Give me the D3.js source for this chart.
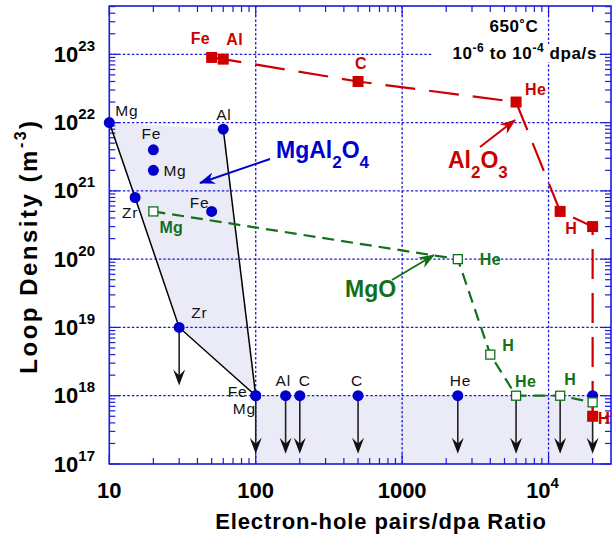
<!DOCTYPE html>
<html>
<head>
<meta charset="utf-8">
<script src="https://cdn.jsdelivr.net/npm/d3@7"></script>
<style>
  body { margin: 0; background: #fff; }
  text { font-family: "Liberation Sans", Arial, sans-serif; }
</style>
</head>
<body>
<script>
// MgAl2O4 (blue dots) - Fe and Mg share the point at 100
var spinelX = [10, 60, 20, 20, 15, 50, 30, 100, 100, 160, 200, 500, 2400, 20000];
var spinelY = [1e22, 8e21, 4e21, 2e21, 8e20, 5e20, 1e19, 1e18, 1e18, 1e18, 1e18, 1e18, 1e18, 1e18];
var spinelLab = ["Mg", "Al", "Fe", "Mg", "Zr", "Fe", "Zr", "Fe", "Mg", "Al", "C", "C", "He", ""];

// MgO (green open squares)
var mgoX = [20, 2400, 4000, 6000, 12000, 20000];
var mgoY = [5e20, 1e20, 4e18, 1e18, 1e18, 8e17];
var mgoLab = ["Mg", "He", "H", "He", "H", ""];

// Al2O3 (red squares)
var aluX = [50, 60, 500, 6000, 12000, 20000, 20000];
var aluY = [9e22, 8.5e22, 4e22, 2e22, 5e20, 3e20, 5e17];
var aluLab = ["Fe", "Al", "C", "He", "H", "", "H"];

// upper limits (arrows pointing down)
var limX = [30, 100, 160, 200, 500, 2400, 6000, 12000, 20000];
var limY = [1e19, 1e18, 1e18, 1e18, 1e18, 1e18, 1e18, 1e18, 1e18];

// MgAl2O4 envelope
var leftEdgeX = [10, 15, 30, 100];
var leftEdgeY = [1e22, 8e20, 1e19, 1e18];
var rightEdgeX = [60, 100];
var rightEdgeY = [8e21, 1e18];
var shadeX = [10, 60, 100, 20000, 20000, 100, 100, 30, 15];
var shadeY = [1e22, 8e21, 1e18, 1e18, 1e17, 1e17, 1e18, 1e19, 8e20];

var xTicks = [10, 100, 1000, 10000];
var xTickLab = [["10", ""], ["100", ""], ["1000", ""], ["10", "4"]];
var yTicks = [1e17, 1e18, 1e19, 1e20, 1e21, 1e22, 1e23];
var yTickExp = ["17", "18", "19", "20", "21", "22", "23"];

var W = 616, H = 544;
var L = 109.3, R = 611, T = 6, B = 464;
var BLUE = "#1a1adc", RED = "#cc0000", GREEN = "#13701a", PT = "#0000cc";

var svg = d3.select("body").append("svg").attr("width", W).attr("height", H);

var x = d3.scaleLog().domain([10, 26700]).range([L, R]);
var y = d3.scaleLog().domain([1e17, 5.1e23]).range([B, T]);

function pts(xs, ys) { return xs.map(function (v, i) { return [x(v), y(ys[i])]; }); }

// shading
svg.append("polygon")
    .attr("points", pts(shadeX, shadeY).join(" "))
    .attr("fill", "#ebebf8");

// grid
svg.selectAll(".gx").data(xTicks.slice(1)).enter().append("line")
    .attr("x1", function (d) { return x(d); }).attr("x2", function (d) { return x(d); })
    .attr("y1", T).attr("y2", B)
    .attr("stroke", BLUE).attr("stroke-width", 1.3).attr("stroke-dasharray", "2.5,2");
svg.selectAll(".gy").data(yTicks.slice(1)).enter().append("line")
    .attr("x1", L).attr("x2", R)
    .attr("y1", function (d) { return y(d); }).attr("y2", function (d) { return y(d); })
    .attr("stroke", BLUE).attr("stroke-width", 1.3).attr("stroke-dasharray", "2.5,2");

// minor/major ticks on all four sides
var xm = [], ym = [];
for (var e = 1; e <= 4; e++) for (var k = 1; k <= 9; k++) { var v = k * Math.pow(10, e); if (v <= 26700) xm.push(v); }
for (var e2 = 17; e2 <= 23; e2++) for (var k2 = 1; k2 <= 9; k2++) { var v2 = k2 * Math.pow(10, e2); if (v2 <= 5.1e23) ym.push(v2); }
function isMajor(v) { return Math.abs(Math.log10(v) - Math.round(Math.log10(v))) < 1e-9; }
var tk = svg.append("g").attr("stroke", BLUE).attr("stroke-width", 1.2);
xm.forEach(function (v) {
    var len = isMajor(v) ? 10 : 6;
    tk.append("line").attr("x1", x(v)).attr("x2", x(v)).attr("y1", B).attr("y2", B - len);
    tk.append("line").attr("x1", x(v)).attr("x2", x(v)).attr("y1", T).attr("y2", T + len);
});
ym.forEach(function (v) {
    var len = isMajor(v) ? 10 : 6;
    tk.append("line").attr("x1", L).attr("x2", L + len).attr("y1", y(v)).attr("y2", y(v));
    tk.append("line").attr("x1", R).attr("x2", R - len).attr("y1", y(v)).attr("y2", y(v));
});

// frame
svg.append("rect").attr("x", L).attr("y", T).attr("width", R - L).attr("height", B - T)
    .attr("fill", "none").attr("stroke", BLUE).attr("stroke-width", 1.6);

// white box behind the dose-rate note
svg.append("rect").attr("x", 432).attr("y", 44).attr("width", 166).attr("height", 18).attr("fill", "#fff");

// envelope lines
var line = d3.line();
svg.append("path").attr("d", line(pts(leftEdgeX, leftEdgeY)))
    .attr("fill", "none").attr("stroke", "#000").attr("stroke-width", 1.5);
svg.append("path").attr("d", line(pts(rightEdgeX, rightEdgeY)))
    .attr("fill", "none").attr("stroke", "#000").attr("stroke-width", 1.5);

// upper-limit arrows
var arrowDrop = Math.pow(10, -0.85);
limX.forEach(function (v, i) {
    var x0 = x(v), y0 = y(limY[i]), y1 = y(limY[i] * arrowDrop);
    svg.append("line").attr("x1", x0).attr("x2", x0).attr("y1", y0).attr("y2", y1 - 6)
        .attr("stroke", "#222").attr("stroke-width", 1.6);
    svg.append("path")
        .attr("d", "M" + x0 + "," + y1 + "l-6,-16l6,6l6,-6z")
        .attr("fill", "#111");
});

// series lines
svg.append("path").attr("d", line(pts(mgoX, mgoY)))
    .attr("fill", "none").attr("stroke", GREEN).attr("stroke-width", 2.2)
    .attr("stroke-dasharray", "12,7");
svg.append("path").attr("d", line(pts(aluX, aluY)))
    .attr("fill", "none").attr("stroke", RED).attr("stroke-width", 2.2)
    .attr("stroke-dasharray", "30,14");

// points
svg.selectAll(".sp").data(spinelX).enter().append("circle")
    .attr("cx", function (d) { return x(d); })
    .attr("cy", function (d, i) { return y(spinelY[i]); })
    .attr("r", 5.5).attr("fill", PT);
svg.selectAll(".mg").data(mgoX).enter().append("rect")
    .attr("x", function (d) { return x(d) - 4.5; })
    .attr("y", function (d, i) { return y(mgoY[i]) - 4.5; })
    .attr("width", 9).attr("height", 9)
    .attr("fill", "#fff").attr("stroke", GREEN).attr("stroke-width", 1.3);
svg.selectAll(".al").data(aluX).enter().append("rect")
    .attr("x", function (d) { return x(d) - 5.5; })
    .attr("y", function (d, i) { return y(aluY[i]) - 5.5; })
    .attr("width", 11).attr("height", 11).attr("fill", RED);

// point labels: offsets from the point, text-anchor start
var spinelOff = [[6, -7], [-7, -9], [-12, -11], [10, 6], [-13, 21], [-22, -3], [12, -9], [-28, 1], [-23, 18], [-10, -10], [-1, -10], [-7, -10], [-8, -10], [0, 0]];
var mgoOff = [[6, 22], [22, 6], [12, -4], [-1, -9], [4, -11], [0, 0]];
var aluOff = [[-21, -13], [3, -14], [-3, -12], [9, -7], [5, 23], [0, 0], [5, 8]];
var aluSize = [16, 16, 16, 16, 16, 16, 17];

function labels(xs, ys, labs, off, fill, weight, sizes) {
    labs.forEach(function (t, i) {
        if (!t) return;
        svg.append("text")
            .attr("x", x(xs[i]) + off[i][0]).attr("y", y(ys[i]) + off[i][1])
            .attr("fill", fill)
            .attr("font-size", sizes ? sizes[i] : (weight === "bold" ? 16 : 15.5))
            .attr("font-weight", weight).attr("letter-spacing", weight === "bold" ? 0.4 : 0.8)
            .text(t);
    });
}
labels(spinelX, spinelY, spinelLab, spinelOff, "#111", "normal");
labels(mgoX, mgoY, mgoLab, mgoOff, GREEN, "bold");
labels(aluX, aluY, aluLab, aluOff, RED, "bold", aluSize);

// callout arrows
var defs = svg.append("defs");
[["hb", PT], ["hr", RED], ["hg", GREEN]].forEach(function (m) {
    defs.append("marker").attr("id", m[0]).attr("viewBox", "0 0 16 12")
        .attr("refX", 15).attr("refY", 6).attr("markerWidth", 16).attr("markerHeight", 12)
        .attr("markerUnits", "userSpaceOnUse").attr("orient", "auto")
        .append("path").attr("d", "M0,0L16,6L0,12L5,6z").attr("fill", m[1]);
});
svg.append("line").attr("x1", 270).attr("y1", 159).attr("x2", 200).attr("y2", 183)
    .attr("stroke", PT).attr("stroke-width", 2).attr("marker-end", "url(#hb)");
svg.append("line").attr("x1", 480).attr("y1", 147).attr("x2", 515).attr("y2", 120)
    .attr("stroke", RED).attr("stroke-width", 2).attr("marker-end", "url(#hr)");
svg.append("line").attr("x1", 392).attr("y1", 280).attr("x2", 434).attr("y2", 255)
    .attr("stroke", GREEN).attr("stroke-width", 2).attr("marker-end", "url(#hg)");

// material names
function chem(xp, yp, parts, fill) {
    var t = svg.append("text").attr("x", xp).attr("y", yp).attr("fill", fill)
        .attr("font-size", 23).attr("font-weight", "bold");
    parts.forEach(function (p) {
        if (p[1]) t.append("tspan").attr("font-size", 17).attr("dy", 10).text(p[0]);
        else t.append("tspan").attr("dy", p[2] ? -10 : 0).text(p[0]);
    });
}
chem(276, 158, [["MgAl"], ["2", 1], ["O", 0, 1], ["4", 1]], PT);
chem(448, 168, [["Al"], ["2", 1], ["O", 0, 1], ["3", 1]], RED);
svg.append("text").attr("x", 345).attr("y", 297).attr("fill", GREEN)
    .attr("font-size", 23).attr("font-weight", "bold").text("MgO");

// condition note
svg.append("text").attr("x", 514).attr("y", 32).attr("text-anchor", "middle")
    .attr("font-size", 17).attr("font-weight", "bold").attr("letter-spacing", 0.5).text("650˚C");
var note = svg.append("text").attr("x", 597).attr("y", 59).attr("text-anchor", "end")
    .attr("font-size", 17).attr("font-weight", "bold").attr("letter-spacing", 0.6);
note.append("tspan").text("10");
note.append("tspan").attr("font-size", 12).attr("dy", -7).text("-6");
note.append("tspan").attr("dy", 7).text(" to 10");
note.append("tspan").attr("font-size", 12).attr("dy", -7).text("-4");
note.append("tspan").attr("dy", 7).text(" dpa/s");

// x tick labels
xTicks.forEach(function (v, i) {
    var t = svg.append("text").attr("x", x(v) + (xTickLab[i][1] ? -6 : 0)).attr("y", 498)
        .attr("text-anchor", "middle").attr("font-size", 22).attr("font-weight", "bold");
    t.append("tspan").text(xTickLab[i][0]);
    if (xTickLab[i][1]) t.append("tspan").attr("font-size", 15).attr("dy", -10).text(xTickLab[i][1]);
});

// y tick labels
yTicks.forEach(function (v, i) {
    var t = svg.append("text").attr("x", 95).attr("y", y(v) + 7.5)
        .attr("text-anchor", "end").attr("font-size", 22).attr("font-weight", "bold");
    t.append("tspan").text("10");
    t.append("tspan").attr("font-size", 15).attr("dy", -11).text(yTickExp[i]);
});

// axis titles
svg.append("text").attr("x", 381).attr("y", 529).attr("text-anchor", "middle")
    .attr("font-size", 22).attr("font-weight", "bold").attr("letter-spacing", 0.9)
    .text("Electron-hole pairs/dpa Ratio");
var yt = svg.append("text").attr("transform", "translate(37,246) rotate(-90)")
    .attr("text-anchor", "middle").attr("font-size", 24).attr("font-weight", "bold")
    .attr("letter-spacing", 2.5);
yt.append("tspan").text("Loop Density (m");
yt.append("tspan").attr("font-size", 16).attr("dy", -11).text("-3");
yt.append("tspan").attr("dy", 11).text(")");
</script>
</body>
</html>
